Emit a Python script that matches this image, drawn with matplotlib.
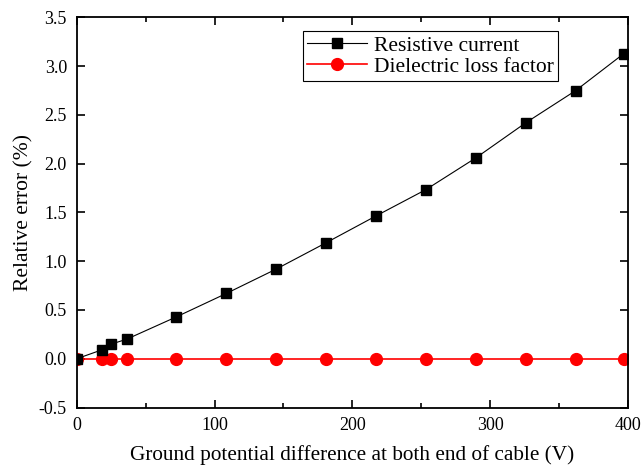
import matplotlib
matplotlib.use("Agg")
import matplotlib.pyplot as plt
from matplotlib.ticker import MultipleLocator

voltage = [0, 18, 25, 36.2, 72.4, 108.6, 144.8, 181, 217.2, 253.4, 289.6, 325.8, 362, 397]
resistive = [0.0, 0.09, 0.15, 0.20, 0.43, 0.67, 0.92, 1.19, 1.465, 1.735, 2.06, 2.42, 2.75, 3.13]
dielectric = [0.0] * len(voltage)

plt.rcParams['font.family'] = ['Liberation Serif', 'DejaVu Serif']

fig = plt.figure(figsize=(6.42, 4.66), dpi=100)
ax = fig.add_axes([76.7/642, 1-407.5/466, (628-76.7)/642, (407.5-17.5)/466])

ax.plot(voltage, resistive, color='black', lw=0.8, marker='s', ms=7, label='Resistive current', zorder=3)
ax.plot(voltage, dielectric, color='red', lw=1.2, marker='o', ms=8.5, label='Dielectric loss factor', zorder=2)

ax.set_xlim(0, 400)
ax.set_ylim(-0.5, 3.5)
ax.xaxis.set_major_locator(MultipleLocator(100))
ax.xaxis.set_minor_locator(MultipleLocator(50))
ax.yaxis.set_major_locator(MultipleLocator(0.5))
ax.tick_params(which='both', direction='in', top=True, right=True, labelsize=13, width=1.2)
ax.tick_params(which='major', length=6, pad=7)
ax.tick_params(which='minor', length=3.5)
for s in ax.spines.values():
    s.set_linewidth(1.3)
ax.yaxis.set_major_formatter(matplotlib.ticker.FormatStrFormatter('%.1f'))

ax.set_xlabel('Ground potential difference at both end of cable (V)', fontsize=15.3, labelpad=8)
ax.set_ylabel('Relative error (%)', fontsize=15.5, labelpad=4)

leg = ax.legend(loc='upper right', bbox_to_anchor=(0.873, 0.965), fontsize=15.5, frameon=True, fancybox=False,
                edgecolor='black', framealpha=1, borderpad=0.2, labelspacing=0.05, handlelength=2.8,
                handletextpad=0.3, borderaxespad=0)
leg.get_frame().set_linewidth(0.8)

fig.savefig('out.png', dpi=100)
